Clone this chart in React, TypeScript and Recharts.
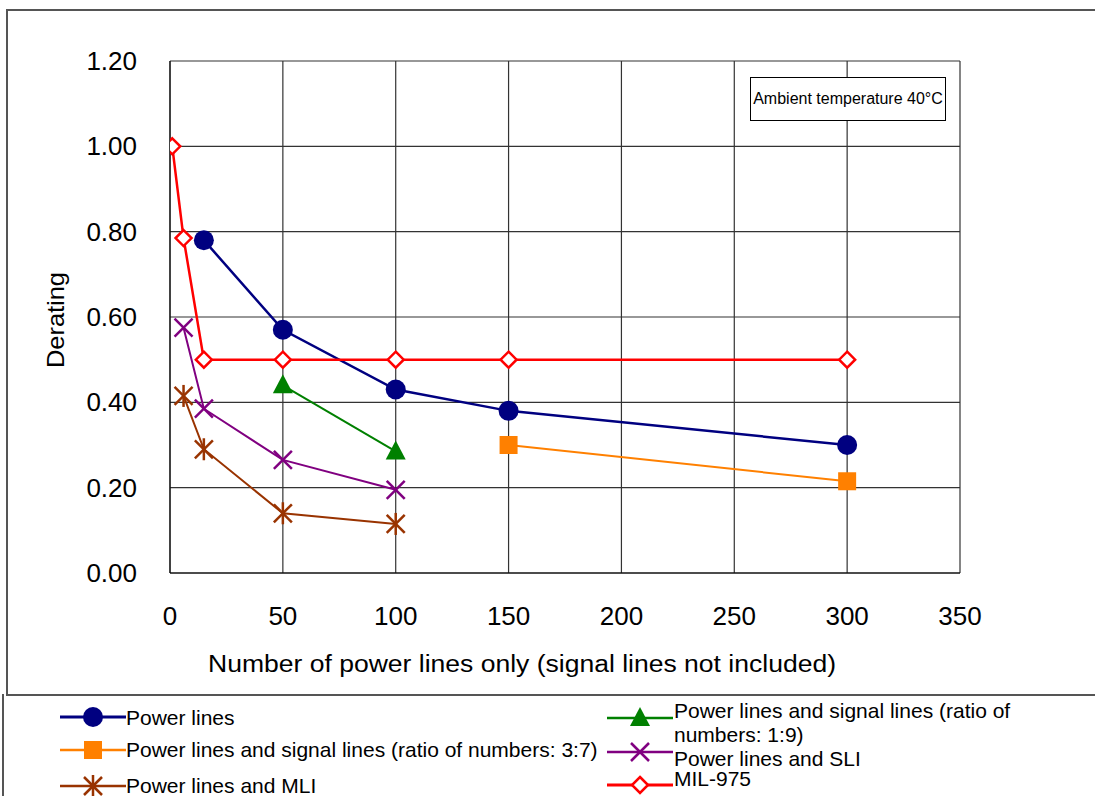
import React from 'react';
import { LineChart, Line, XAxis, YAxis, CartesianGrid } from 'recharts';

const powerX = [15, 50, 100, 150, 300];
const powerY = [0.78, 0.57, 0.43, 0.38, 0.3];
const sig37X = [150, 300];
const sig37Y = [0.3, 0.215];
const mliX = [6, 15, 50, 100];
const mliY = [0.415, 0.29, 0.14, 0.115];
const sig19X = [50, 100];
const sig19Y = [0.44, 0.285];
const sliX = [6, 15, 50, 100];
const sliY = [0.575, 0.385, 0.265, 0.195];
const milX = [1, 6, 15, 50, 100, 150, 300];
const milY = [1.0, 0.785, 0.5, 0.5, 0.5, 0.5, 0.5];

const xTicks = [0, 50, 100, 150, 200, 250, 300, 350];
const yTicks = [0, 0.2, 0.4, 0.6, 0.8, 1.0, 1.2];

const toRows = (xs: number[], ys: number[]) => xs.map((x, i) => ({ x, y: ys[i] }));

const NAVY = '#000080';
const ORANGE = '#FF8000';
const BROWN = '#993300';
const GREEN = '#008000';
const PURPLE = '#800080';
const RED = '#FF0000';

type ShapeProps = { cx: number; cy: number };

const CircleMark = ({ cx, cy }: ShapeProps) => <circle cx={cx} cy={cy} r={10} fill={NAVY} />;
const SquareMark = ({ cx, cy }: ShapeProps) => (
  <rect x={cx - 9} y={cy - 9} width={18} height={18} fill={ORANGE} />
);
const TriangleMark = ({ cx, cy }: ShapeProps) => (
  <polygon points={`${cx},${cy - 11} ${cx - 10},${cy + 8} ${cx + 10},${cy + 8}`} fill={GREEN} />
);
const CrossMark = ({ cx, cy }: ShapeProps) => (
  <g stroke={PURPLE} strokeWidth={2.5}>
    <line x1={cx - 9} y1={cy - 9} x2={cx + 9} y2={cy + 9} />
    <line x1={cx - 9} y1={cy + 9} x2={cx + 9} y2={cy - 9} />
  </g>
);
const StarMark = ({ cx, cy }: ShapeProps) => (
  <g stroke={BROWN} strokeWidth={2.5}>
    <line x1={cx - 9} y1={cy - 9} x2={cx + 9} y2={cy + 9} />
    <line x1={cx - 9} y1={cy + 9} x2={cx + 9} y2={cy - 9} />
    <line x1={cx} y1={cy - 11} x2={cx} y2={cy + 11} />
  </g>
);
const DiamondMark = ({ cx, cy }: ShapeProps) => (
  <polygon
    points={`${cx},${cy - 8} ${cx + 8},${cy} ${cx},${cy + 8} ${cx - 8},${cy}`}
    fill="#fff"
    stroke={RED}
    strokeWidth={2.5}
  />
);

const dotOf = (Mark: React.FC<ShapeProps>) => (props: any) =>
  <Mark key={`m-${props.index}`} cx={props.cx} cy={props.cy} />;

const series = [
  { name: 'Power lines', rows: toRows(powerX, powerY), color: NAVY, width: 2.5, Mark: CircleMark },
  { name: 'Power lines and signal lines (ratio of numbers: 3:7)', rows: toRows(sig37X, sig37Y), color: ORANGE, width: 2, Mark: SquareMark },
  { name: 'Power lines and MLI', rows: toRows(mliX, mliY), color: BROWN, width: 2, Mark: StarMark },
  { name: 'Power lines and signal lines (ratio of numbers: 1:9)', rows: toRows(sig19X, sig19Y), color: GREEN, width: 2, Mark: TriangleMark },
  { name: 'Power lines and SLI', rows: toRows(sliX, sliY), color: PURPLE, width: 2, Mark: CrossMark },
  { name: 'MIL-975', rows: toRows(milX, milY), color: RED, width: 2.5, Mark: DiamondMark },
];

const FONT = '"Liberation Sans", Arial, sans-serif';

const XTick = (props: any) => (
  <text x={props.x} y={props.y + 50} textAnchor="middle" fontSize={26} fill="#000" fontFamily={FONT}>
    {props.payload.value}
  </text>
);
const YTick = (props: any) => (
  <text x={props.x} y={props.y + 9} textAnchor="end" fontSize={26} fill="#000" fontFamily={FONT}>
    {Number(props.payload.value).toFixed(2)}
  </text>
);

const XTitle = (props: any) => {
  const vb = props.viewBox;
  return (
    <text
      x={vb.x + vb.width / 2 - 43}
      y={vb.y + 99}
      textAnchor="middle"
      fontSize={23}
      fill="#000"
      fontFamily={FONT}
      textLength={628}
      lengthAdjust="spacingAndGlyphs"
    >
      Number of power lines only (signal lines not included)
    </text>
  );
};

const YTitle = (props: any) => {
  const vb = props.viewBox;
  const cx = vb.x + 55;
  const cy = vb.y + vb.height / 2 + 3;
  return (
    <text
      x={cx}
      y={cy}
      transform={`rotate(-90 ${cx} ${cy})`}
      textAnchor="middle"
      dominantBaseline="central"
      fontSize={24}
      fill="#000"
      fontFamily={FONT}
      textLength={96}
      lengthAdjust="spacingAndGlyphs"
    >
      Derating
    </text>
  );
};

const LegendSample = ({ color, Mark, width }: { color: string; Mark: React.FC<ShapeProps>; width: number }) => (
  <svg width={66} height={26} style={{ display: 'block' }}>
    <line x1={0} y1={13} x2={66} y2={13} stroke={color} strokeWidth={width + 0.5} />
    <Mark cx={33} cy={13} />
  </svg>
);

const legendItems = [
  { i: 0, left: 60, top: 704, textLeft: 126, textTops: [709] },
  { i: 1, left: 60, top: 737, textLeft: 126, textTops: [741] },
  { i: 2, left: 60, top: 773, textLeft: 126, textTops: [777] },
  { i: 3, left: 607, top: 705, textLeft: 674, textTops: [702, 726] },
  { i: 4, left: 607, top: 739, textLeft: 674, textTops: [750] },
  { i: 5, left: 607, top: 772, textLeft: 674, textTops: [770] },
];
const legendLines = [
  ['Power lines'],
  ['Power lines and signal lines (ratio of numbers: 3:7)'],
  ['Power lines and MLI'],
  ['Power lines and signal lines (ratio of', 'numbers: 1:9)'],
  ['Power lines and SLI'],
  ['MIL-975'],
];

export default function App() {
  return (
    <div
      style={{
        position: 'absolute',
        left: 0,
        top: 0,
        width: 1095,
        height: 796,
        overflow: 'hidden',
        background: '#fff',
        fontFamily: FONT,
      }}
    >
      <div
        style={{
          position: 'absolute',
          left: 6,
          top: 9,
          width: 1200,
          height: 683,
          borderTop: '2px solid #555',
          borderLeft: '2px solid #555',
          borderBottom: '2px solid #555',
        }}
      />
      <div
        style={{
          position: 'absolute',
          left: 2,
          top: 694,
          width: 1200,
          height: 200,
          borderLeft: '2px solid #555',
        }}
      />
      <div style={{ position: 'absolute', left: 0, top: 0 }}>
        <LineChart width={1095} height={692} margin={{ top: 61, right: 135, bottom: 19, left: 0 }}>
          <CartesianGrid stroke="#333" strokeWidth={1.2} horizontalValues={yTicks} verticalValues={xTicks} />
          <XAxis
            type="number"
            dataKey="x"
            domain={[0, 350]}
            ticks={xTicks}
            allowDataOverflow
            height={100}
            tickLine={false}
            tickSize={0}
            stroke="#000"
            tick={<XTick />}
            label={<XTitle />}
          />
          <YAxis
            type="number"
            dataKey="y"
            domain={[0, 1.2]}
            ticks={yTicks}
            width={170}
            tickLine={false}
            tickSize={0}
            tickMargin={33}
            stroke="#000"
            tick={<YTick />}
            label={<YTitle />}
          />
          {series.map((s) => (
            <Line
              key={s.name}
              data={s.rows}
              dataKey="y"
              name={s.name}
              type="linear"
              stroke={s.color}
              strokeWidth={s.width}
              dot={dotOf(s.Mark)}
              activeDot={false}
              isAnimationActive={false}
            />
          ))}
        </LineChart>
      </div>
      <div
        style={{
          position: 'absolute',
          left: 750,
          top: 77,
          width: 194,
          height: 42,
          border: '1px solid #000',
          background: '#fff',
          fontSize: 16,
          display: 'flex',
          alignItems: 'center',
          justifyContent: 'center',
          whiteSpace: 'nowrap',
        }}
      >
        Ambient temperature 40°C
      </div>
      {legendItems.map((it) => {
        const s = series[it.i];
        return (
          <React.Fragment key={s.name}>
            <div style={{ position: 'absolute', left: it.left, top: it.top }}>
              <LegendSample color={s.color} Mark={s.Mark} width={s.width} />
            </div>
            {legendLines[it.i].map((l, k) => (
              <div
                key={l}
                style={{
                  position: 'absolute',
                  left: it.textLeft,
                  top: it.textTops[k],
                  fontSize: 21,
                  lineHeight: '17px',
                  whiteSpace: 'nowrap',
                  color: '#000',
                }}
              >
                {l}
              </div>
            ))}
          </React.Fragment>
        );
      })}
    </div>
  );
}
